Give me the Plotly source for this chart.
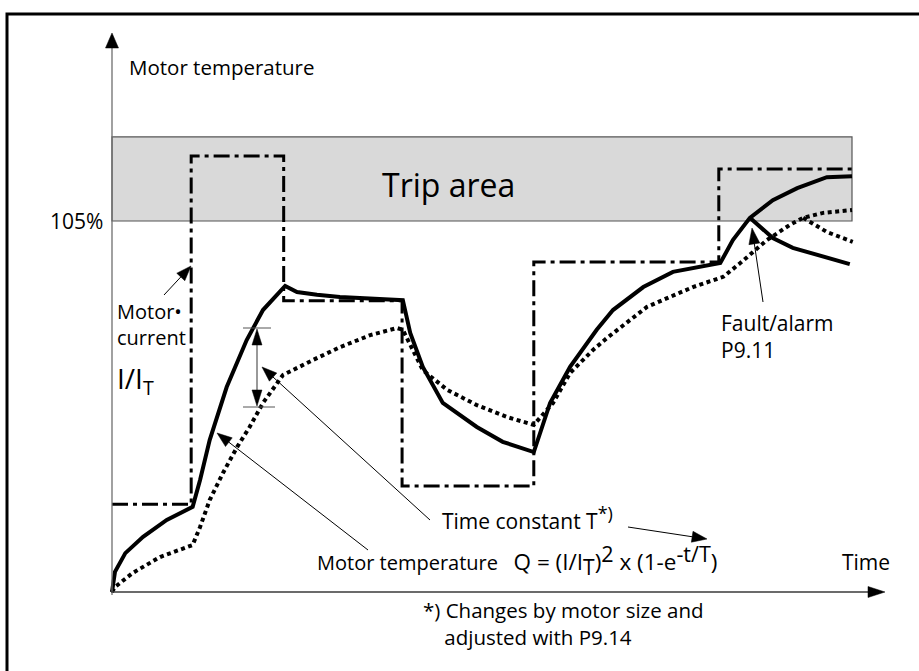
import math
import plotly.graph_objects as go

# ---------------- data (time units 0..100, temperature in % of nominal) ----------------
current_t = [0, 10.7, 23.2, 39.2, 57.0, 82.0, 100]
current_level = [24.8, 123.4, 82.4, 30.0, 93.4, 119.7, 119.7]

temp_t = [0, 0.4, 1.8, 4.2, 7.4, 10.9, 11.9, 13.2, 15.5, 18.2, 20.4, 23.4, 25.0, 27.7,
          30.8, 39.3, 40.3, 42.0, 44.7, 49.3, 52.8, 57.0, 59.2, 61.9, 65.5, 67.7, 71.8,
          75.8, 82.2, 83.9, 86.2, 89.3, 92.6, 96.6, 100]
temp_val = [0, 5.7, 11.0, 15.6, 20.4, 24.1, 31.7, 43.0, 58.0, 71.3, 79.8, 86.6, 84.9, 84.1,
            83.5, 82.6, 73.3, 63.7, 53.5, 46.7, 42.5, 39.6, 53.5, 63.7, 74.2, 79.8, 86.3,
            90.6, 93.1, 99.6, 105.9, 110.9, 114.3, 117.4, 117.7]

temp_trip_t = [86.2, 89.3, 92.0, 99.7]
temp_trip_val = [105.9, 100.2, 97.4, 92.8]

model_t = [0, 0.4, 2.8, 6.5, 10.9, 11.9, 13.2, 15.0, 16.9, 18.6, 20.4, 23.1, 27.2, 30.8,
           34.9, 38.5, 39.3, 40.7, 42.0, 45.3, 49.3, 53.4, 57.0, 59.6, 61.9, 65.0, 66.9,
           72.3, 78.5, 82.6, 84.9, 88.5, 91.6, 93.4, 96.1, 100]
model_val = [0, 1.4, 5.4, 9.9, 13.3, 18.4, 26.0, 33.7, 41.0, 46.7, 53.5, 61.4, 65.7, 69.3,
             72.7, 74.7, 74.2, 68.5, 62.8, 57.2, 52.9, 49.5, 47.3, 53.5, 62.0, 68.5, 71.9,
             80.7, 86.3, 89.2, 93.1, 99.6, 103.9, 105.9, 107.3, 108.1]

model_trip_t = [93.4, 96.6, 100.1]
model_trip_val = [105.9, 101.9, 99.1]

trip_level = 105
trip_top = 128.8
time_end = 100

# ---------------- geometry ----------------
W, H = 919, 671
X0_PX, X_SCALE = 112, 7.4
Y0_PX, Y_SCALE = 592, 371 / 105

x_range = [(0 - X0_PX) / X_SCALE, (W - X0_PX) / X_SCALE]
y_range = [(Y0_PX - H) / Y_SCALE, Y0_PX / Y_SCALE]


def px(x, y):
    return x / W, 1 - y / H


def arrow_shapes(tail, tip, L=14, hw=5, lw=1, color="black", head_color="black"):
    (x1, y1), (x2, y2) = tail, tip
    dx, dy = x2 - x1, y2 - y1
    d = math.hypot(dx, dy)
    ux, uy = dx / d, dy / d
    bx, by = x2 - L * ux, y2 - L * uy
    nx, ny = -uy, ux
    pts = [(x2, y2), (bx + hw * nx, by + hw * ny), (bx - hw * nx, by - hw * ny)]
    path = "M " + " L ".join(f"{x / W:.5f},{1 - y / H:.5f}" for x, y in pts) + " Z"
    return [
        dict(type="line", xref="paper", yref="paper", x0=x1 / W, y0=1 - y1 / H,
             x1=(bx + 0.5 * ux) / W, y1=1 - (by + 0.5 * uy) / H,
             line=dict(color=color, width=lw)),
        dict(type="path", xref="paper", yref="paper", path=path,
             fillcolor=head_color, line=dict(color=head_color, width=0.5)),
    ]


fig = go.Figure()

fig.add_trace(go.Scatter(x=current_t, y=current_level, mode="lines", line_shape="hv",
                         line=dict(color="black", width=3, dash="16px,5px,4px,5px"),
                         hoverinfo="skip"))
fig.add_trace(go.Scatter(x=model_t, y=model_val, mode="lines",
                         line=dict(color="black", width=4, dash="4px,3.5px"), hoverinfo="skip"))
fig.add_trace(go.Scatter(x=model_trip_t, y=model_trip_val, mode="lines",
                         line=dict(color="black", width=4, dash="4px,3.5px"), hoverinfo="skip"))
fig.add_trace(go.Scatter(x=temp_t, y=temp_val, mode="lines",
                         line=dict(color="black", width=4), hoverinfo="skip"))
fig.add_trace(go.Scatter(x=temp_trip_t, y=temp_trip_val, mode="lines",
                         line=dict(color="black", width=4), hoverinfo="skip"))

shapes = []
# outer frame
shapes.append(dict(type="rect", xref="paper", yref="paper", x0=7 / W, x1=1.05,
                   y0=-0.05, y1=1 - 14 / H, line=dict(color="black", width=3)))
# trip area
shapes.append(dict(type="rect", xref="x", yref="y", x0=0, x1=time_end, y0=trip_level,
                   y1=trip_top, fillcolor="#d9d9d9", line=dict(color="#555555", width=1.2),
                   layer="below"))
# axes
shapes += arrow_shapes((112, 595), (112, 33), L=15, hw=6.5, lw=1.3, color="#6e6e6e")
shapes += arrow_shapes((111, 592), (885, 592), L=17, hw=5.5, lw=1.3, color="#3a3a3a")
# time-constant marker
shapes.append(dict(type="line", xref="paper", yref="paper", x0=243 / W, x1=271 / W,
                   y0=1 - 328 / H, y1=1 - 328 / H, line=dict(color="#555555", width=1)))
shapes.append(dict(type="line", xref="paper", yref="paper", x0=243 / W, x1=275 / W,
                   y0=1 - 407 / H, y1=1 - 407 / H, line=dict(color="#555555", width=1)))
shapes += arrow_shapes((257, 368), (257, 329), L=16, hw=5, lw=1.2, color="#555555")
shapes += arrow_shapes((257, 368), (257, 406), L=16, hw=5, lw=1.2, color="#555555")
# pointer arrows
shapes += arrow_shapes((164, 295), (191, 266), L=15, hw=5.5)
shapes += arrow_shapes((368, 550), (217, 433), L=15, hw=5.5)
shapes += arrow_shapes((430, 520), (262, 367), L=15, hw=5.5)
shapes += arrow_shapes((628, 527), (707, 539), L=15, hw=5.5)
shapes += arrow_shapes((763, 302), (752, 228), L=16, hw=5.5)

FONT = "Open Sans"


def label(text, x, y, size=21, anchor="left"):
    xp, yp = px(x, y)
    return dict(text=text, x=xp, y=yp, xref="paper", yref="paper", showarrow=False,
                xanchor=anchor, yanchor="middle", align="left",
                font=dict(family=FONT, size=size, color="black"), borderpad=0)


def sup(t, size=20):
    return f"<sup><span style='font-size:{size}px'>{t}</span></sup>"


def sub(t, size=20):
    return f"<sub><span style='font-size:{size}px'>{t}</span></sub>"


formula = ("Motor temperature\u00a0\u00a0\u00a0"
           "<span style='font-size:22.5px'>Q = (I/I</span>" + sub("T", 21)
           + "<span style='font-size:22.5px'>)</span>" + sup("2", 21.5)
           + "<span style='font-size:22.5px'> x (1-e</span>" + sup("-t/T", 21.5)
           + "<span style='font-size:22.5px'>)</span>")

annotations = [
    label("Motor temperature", 128, 67, size=20.5),
    label("Trip area", 381, 184, size=32),
    label("105%", 104, 221, anchor="right"),
    label("Motor•<br>current", 116, 324, size=20),
    label("I/I<sub>T</sub>", 116, 380, size=28),
    label("Time constant T" + sup("*)", 18), 441, 518),
    label(formula, 316, 560, size=20),
    label("Time", 841, 562),
    label("*) Changes by motor size and<br>\u00a0\u00a0\u00a0\u00a0adjusted with P9.14", 422, 623, size=20.5),
    label("Fault/alarm<br>P9.11", 720, 336, size=21),
]

fig.update_layout(
    width=W, height=H, margin=dict(l=0, r=0, t=0, b=0),
    paper_bgcolor="white", plot_bgcolor="white", showlegend=False,
    xaxis=dict(range=x_range, visible=False, fixedrange=True),
    yaxis=dict(range=y_range, visible=False, fixedrange=True),
    shapes=shapes, annotations=annotations,
    font=dict(family=FONT, color="black"),
)

fig.write_html("out.html", config={"displayModeBar": False},
               post_script="document.body.style.margin='0';")
